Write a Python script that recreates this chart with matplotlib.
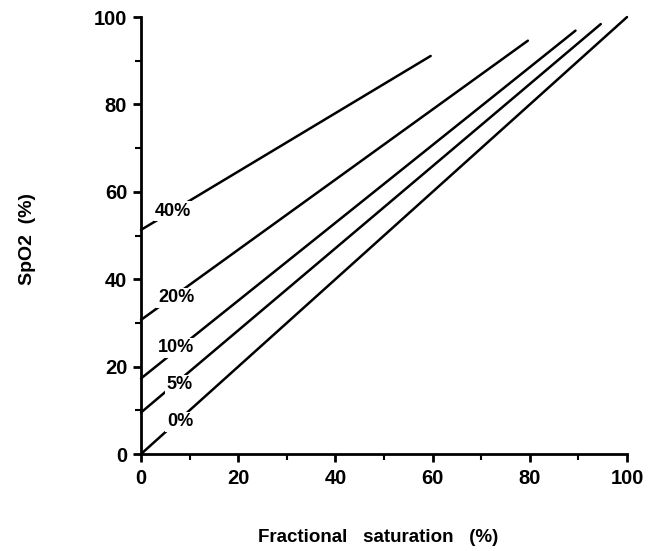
import matplotlib

matplotlib.use("Agg")

import matplotlib.pyplot as plt
from matplotlib.ticker import MultipleLocator

# COHb levels and the straight lines
cohb_labels = ["0%", "5%", "10%", "20%", "40%"]
start_fs = [0, 0, 0, 0, 0]
start_spo2 = [0, 9.5, 17.3, 30.7, 51.3]
end_fs = [100, 94.6, 89.4, 79.6, 59.6]
end_spo2 = [100, 98.4, 96.9, 94.6, 91.1]
label_fs = [8.0, 8.0, 7.2, 7.2, 6.6]
label_spo2 = [7.4, 15.8, 24.3, 35.8, 55.6]

x_ticks = [0, 20, 40, 60, 80, 100]
y_ticks = [0, 20, 40, 60, 80, 100]

plt.rcParams["font.family"] = ["Liberation Sans", "DejaVu Sans"]
plt.rcParams["font.weight"] = "bold"

fig = plt.figure(figsize=(6.63, 5.51), dpi=100)
ax = fig.add_axes([0.2127, 0.176, 0.733, 0.793])

for x0, y0, x1, y1 in zip(start_fs, start_spo2, end_fs, end_spo2):
    ax.plot([x0, x1], [y0, y1], color="black", linewidth=1.8,
            solid_capstyle="round", clip_on=False, zorder=2)

for label, lx, ly in zip(cohb_labels, label_fs, label_spo2):
    ax.text(lx, ly, label, fontsize=13, fontweight="bold", ha="center",
            va="center", zorder=3,
            bbox=dict(facecolor="white", edgecolor="none", pad=1.0))

ax.set_xlim(0, 100)
ax.set_ylim(0, 100)
ax.set_xticks(x_ticks)
ax.set_yticks(y_ticks)
ax.xaxis.set_minor_locator(MultipleLocator(10))
ax.yaxis.set_minor_locator(MultipleLocator(10))

for side in ["top", "right"]:
    ax.spines[side].set_visible(False)
for side in ["left", "bottom"]:
    ax.spines[side].set_linewidth(2.0)

ax.tick_params(which="major", direction="out", length=6, width=2.0,
               labelsize=14.5, pad=4)
ax.tick_params(axis="x", which="major", pad=5)
ax.tick_params(which="minor", direction="out", length=4, width=1.5)
for lbl in ax.get_xticklabels() + ax.get_yticklabels():
    lbl.set_fontweight("bold")

fig.text(28 / 663, 1 - 239 / 551, "SpO2  (%)", rotation=90, fontsize=14,
         fontweight="bold", ha="center", va="center")
fig.text(378 / 663, 1 - 537 / 551, "Fractional   saturation   (%)",
         fontsize=13.5, fontweight="bold", ha="center", va="center")

fig.savefig("out.png", dpi=100)
plt.close(fig)
